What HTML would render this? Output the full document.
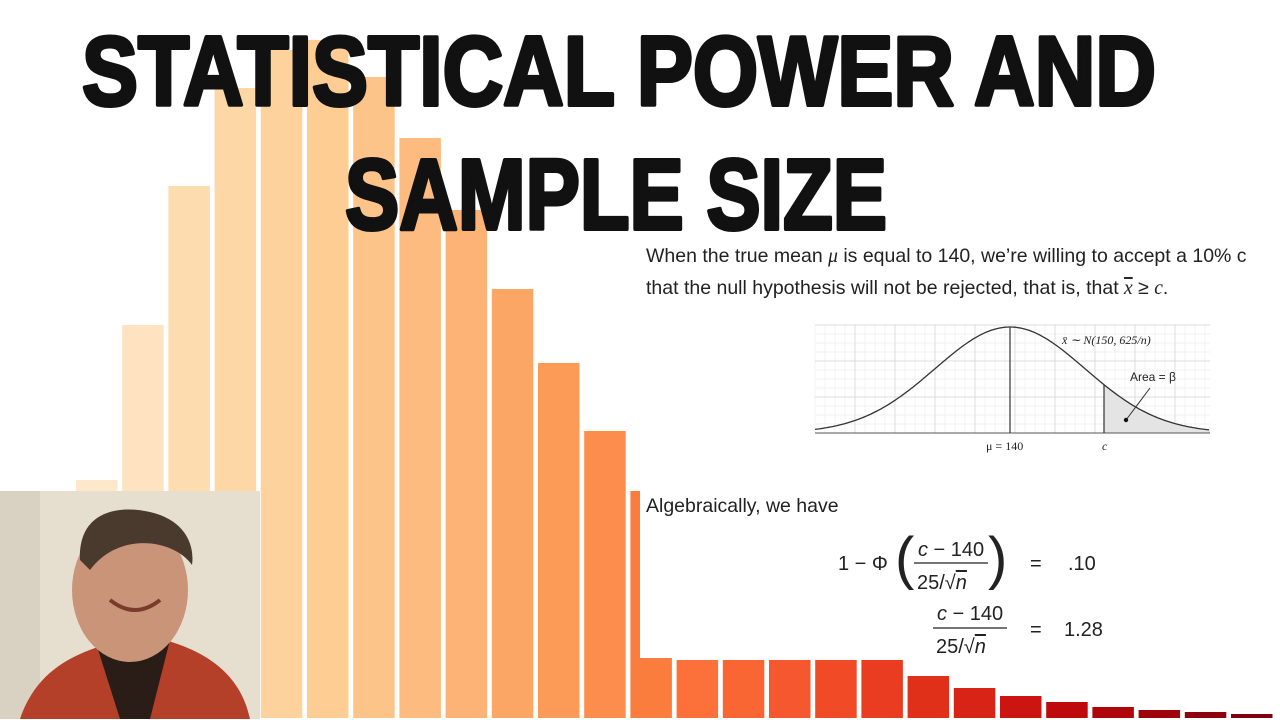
<!DOCTYPE html>
<html><head><meta charset="utf-8">
<style>
html,body{margin:0;padding:0;background:#fff;width:1280px;height:720px;overflow:hidden;}
svg{display:block;}
.txt{font-family:"Liberation Sans",sans-serif;fill:#222;}
.ser{font-family:"Liberation Serif",serif;fill:#222;}
</style></head>
<body>
<svg id="chart" width="1280" height="720" viewBox="0 0 1280 720">
<g id="bars"></g>
<rect x="640" y="236" width="640" height="422" fill="#fff"/>
<g id="titles">
<text x="82" y="105" font-family="Liberation Sans, sans-serif" font-weight="bold" font-size="98" textLength="1074" lengthAdjust="spacingAndGlyphs" fill="#111" stroke="#111" stroke-width="4" stroke-linejoin="round">STATISTICAL POWER AND</text>
<text x="345" y="229" font-family="Liberation Sans, sans-serif" font-weight="bold" font-size="100" textLength="542" lengthAdjust="spacingAndGlyphs" fill="#111" stroke="#111" stroke-width="4" stroke-linejoin="round">SAMPLE SIZE</text>
</g>
<g>
<text class="txt" x="646" y="262" font-size="19.5">When the true mean <tspan font-style="italic" font-family="Liberation Serif">μ</tspan> is equal to 140, we’re willing to accept a 10% c</text>
<text class="txt" x="646" y="294" font-size="19.5">that the null hypothesis will not be rejected, that is, that <tspan font-style="italic" font-family="Liberation Serif" text-decoration="overline">x</tspan> ≥ <tspan font-style="italic" font-family="Liberation Serif">c</tspan>.</text>
</g>
<g id="normal-plot"></g>
<g>
<text class="txt" x="646" y="512" font-size="19.5">Algebraically, we have</text>
<text class="txt" x="838" y="570" font-size="20">1 − Φ</text>
<text class="txt" x="895" y="578" font-size="58" font-weight="lighter">(</text>
<text class="txt" x="988" y="578" font-size="58" font-weight="lighter">)</text>
<text class="txt" x="918" y="556" font-size="20"><tspan font-style="italic">c</tspan> − 140</text>
<line x1="914" y1="563" x2="988" y2="563" stroke="#222" stroke-width="1.3"/>
<text class="txt" x="917" y="589" font-size="20">25/√<tspan font-style="italic" text-decoration="overline">n</tspan></text>
<text class="txt" x="1030" y="570" font-size="20">=</text>
<text class="txt" x="1068" y="570" font-size="20">.10</text>
<text class="txt" x="937" y="620" font-size="20"><tspan font-style="italic">c</tspan> − 140</text>
<line x1="933" y1="628" x2="1007" y2="628" stroke="#222" stroke-width="1.3"/>
<text class="txt" x="936" y="653" font-size="20">25/√<tspan font-style="italic" text-decoration="overline">n</tspan></text>
<text class="txt" x="1030" y="636" font-size="20">=</text>
<text class="txt" x="1064" y="636" font-size="20">1.28</text>
</g>
<g>
<rect x="0" y="491" width="260" height="228" fill="#e6dfd0"/>
<rect x="0" y="491" width="40" height="228" fill="#d9d2c2"/>
<path d="M20 719 C40 660 90 650 120 640 L165 640 C200 650 240 670 250 719 Z" fill="#b5402a"/>
<path d="M95 640 L120 719 L150 719 L170 640 Z" fill="#2a1d18"/>
<ellipse cx="130" cy="590" rx="58" ry="72" fill="#c99478"/>
<path d="M80 560 C78 510 120 505 150 512 C185 520 195 545 192 565 C175 540 120 530 90 570 Z" fill="#4a3a2e"/>
<path d="M110 600 Q135 620 160 600" stroke="#7a3b2c" stroke-width="4" fill="none"/>
</g>
</svg>
<script>
const binLabels=["b1","b2","b3","b4","b5","b6","b7","b8","b9","b10","b11","b12","b13","b14","b15","b16","b17","b18","b19","b20","b21","b22","b23","b24","b25","b26"];
const binHeights=[238,393,532,630,668,678,641,580,508,429,355,287,227,58,58,58,58,58,42,30,22,16,11,8,6,4];
const barColors=["#fde8cc","#fde3bf","#fddcb0","#fdd7a5","#fdd29c","#fdcd94","#fdc48a","#fdbb7f","#fdb276","#fca665","#fc9b58","#fc8d4c","#fb7d3e","#fb7139","#fa6534","#f5572e","#f04a27","#ea3c20","#e0301a","#d72416","#cc1510","#be0a0c","#ae060b","#9e030c","#8e020d","#80010e"];
const BASE=718, X0=76, STEP=46.2, W=41.5;
const xs=i=>X0+i*STEP;
const ys=v=>BASE-v;
const NS='http://www.w3.org/2000/svg';
const gb=document.getElementById('bars');
binHeights.forEach((v,i)=>{
  const r=document.createElementNS(NS,'rect');
  r.setAttribute('x',xs(i));r.setAttribute('y',ys(v));
  r.setAttribute('width',W);r.setAttribute('height',v);
  r.setAttribute('fill',barColors[i]);
  
  
  gb.appendChild(r);
});
const g=document.getElementById('normal-plot');
function add(tag,attrs,text){
  const e=document.createElementNS(NS,tag);
  for(const k in attrs) e.setAttribute(k,attrs[k]);
  if(text) e.textContent=text;
  g.appendChild(e);
  return e;
}
const px0=815,px1=1210,py0=325,pyB=433;
for(let x=px0;x<=px1;x+=10) add('line',{x1:x,y1:py0,x2:x,y2:pyB,stroke:'#eeeeee','stroke-width':0.7});
for(let y=pyB;y>=py0;y-=9) add('line',{x1:px0,y1:y,x2:px1,y2:y,stroke:'#eeeeee','stroke-width':0.7});
for(let x=px0+40;x<=px1;x+=40) add('line',{x1:x,y1:py0,x2:x,y2:pyB,stroke:'#d6d6d6','stroke-width':0.8});
for(let y=pyB-36;y>=py0;y-=36) add('line',{x1:px0,y1:y,x2:px1,y2:y,stroke:'#d6d6d6','stroke-width':0.8});
const mu=1010,sd=75,peak=106;
const f=x=>pyB-peak*Math.exp(-0.5*((x-mu)/sd)**2);
let d='M'+px0+' '+f(px0).toFixed(1),fl='M1104 '+pyB;
for(let x=px0;x<=px1;x+=2){d+=' L'+x+' '+f(x).toFixed(1);}
for(let x=1104;x<=px1;x+=2){fl+=' L'+x+' '+f(x).toFixed(1);}
fl+=' L'+px1+' '+pyB+' Z';
add('path',{d:fl,fill:'#e4e4e4'});
add('path',{d:d,fill:'none',stroke:'#333','stroke-width':1.3});
add('line',{x1:px0,y1:pyB,x2:px1,y2:pyB,stroke:'#555','stroke-width':1});
add('line',{x1:mu,y1:f(mu),x2:mu,y2:pyB,stroke:'#333','stroke-width':1.2});
add('line',{x1:1104,y1:f(1104),x2:1104,y2:pyB,stroke:'#333','stroke-width':1.2});
add('line',{x1:1126,y1:420,x2:1150,y2:388,stroke:'#333','stroke-width':1});
add('circle',{cx:1126,cy:420,r:2.2,fill:'#111'});
add('text',{class:'ser',x:1062,y:344,'font-size':12,'font-style':'italic'},'x̄ ∼ N(150, 625/n)');
add('text',{class:'txt',x:1130,y:381,'font-size':12},'Area = β');
add('text',{class:'ser',x:986,y:450,'font-size':12},'μ = 140');
add('text',{class:'ser',x:1102,y:450,'font-size':12,'font-style':'italic'},'c');
</script>
</body></html>
